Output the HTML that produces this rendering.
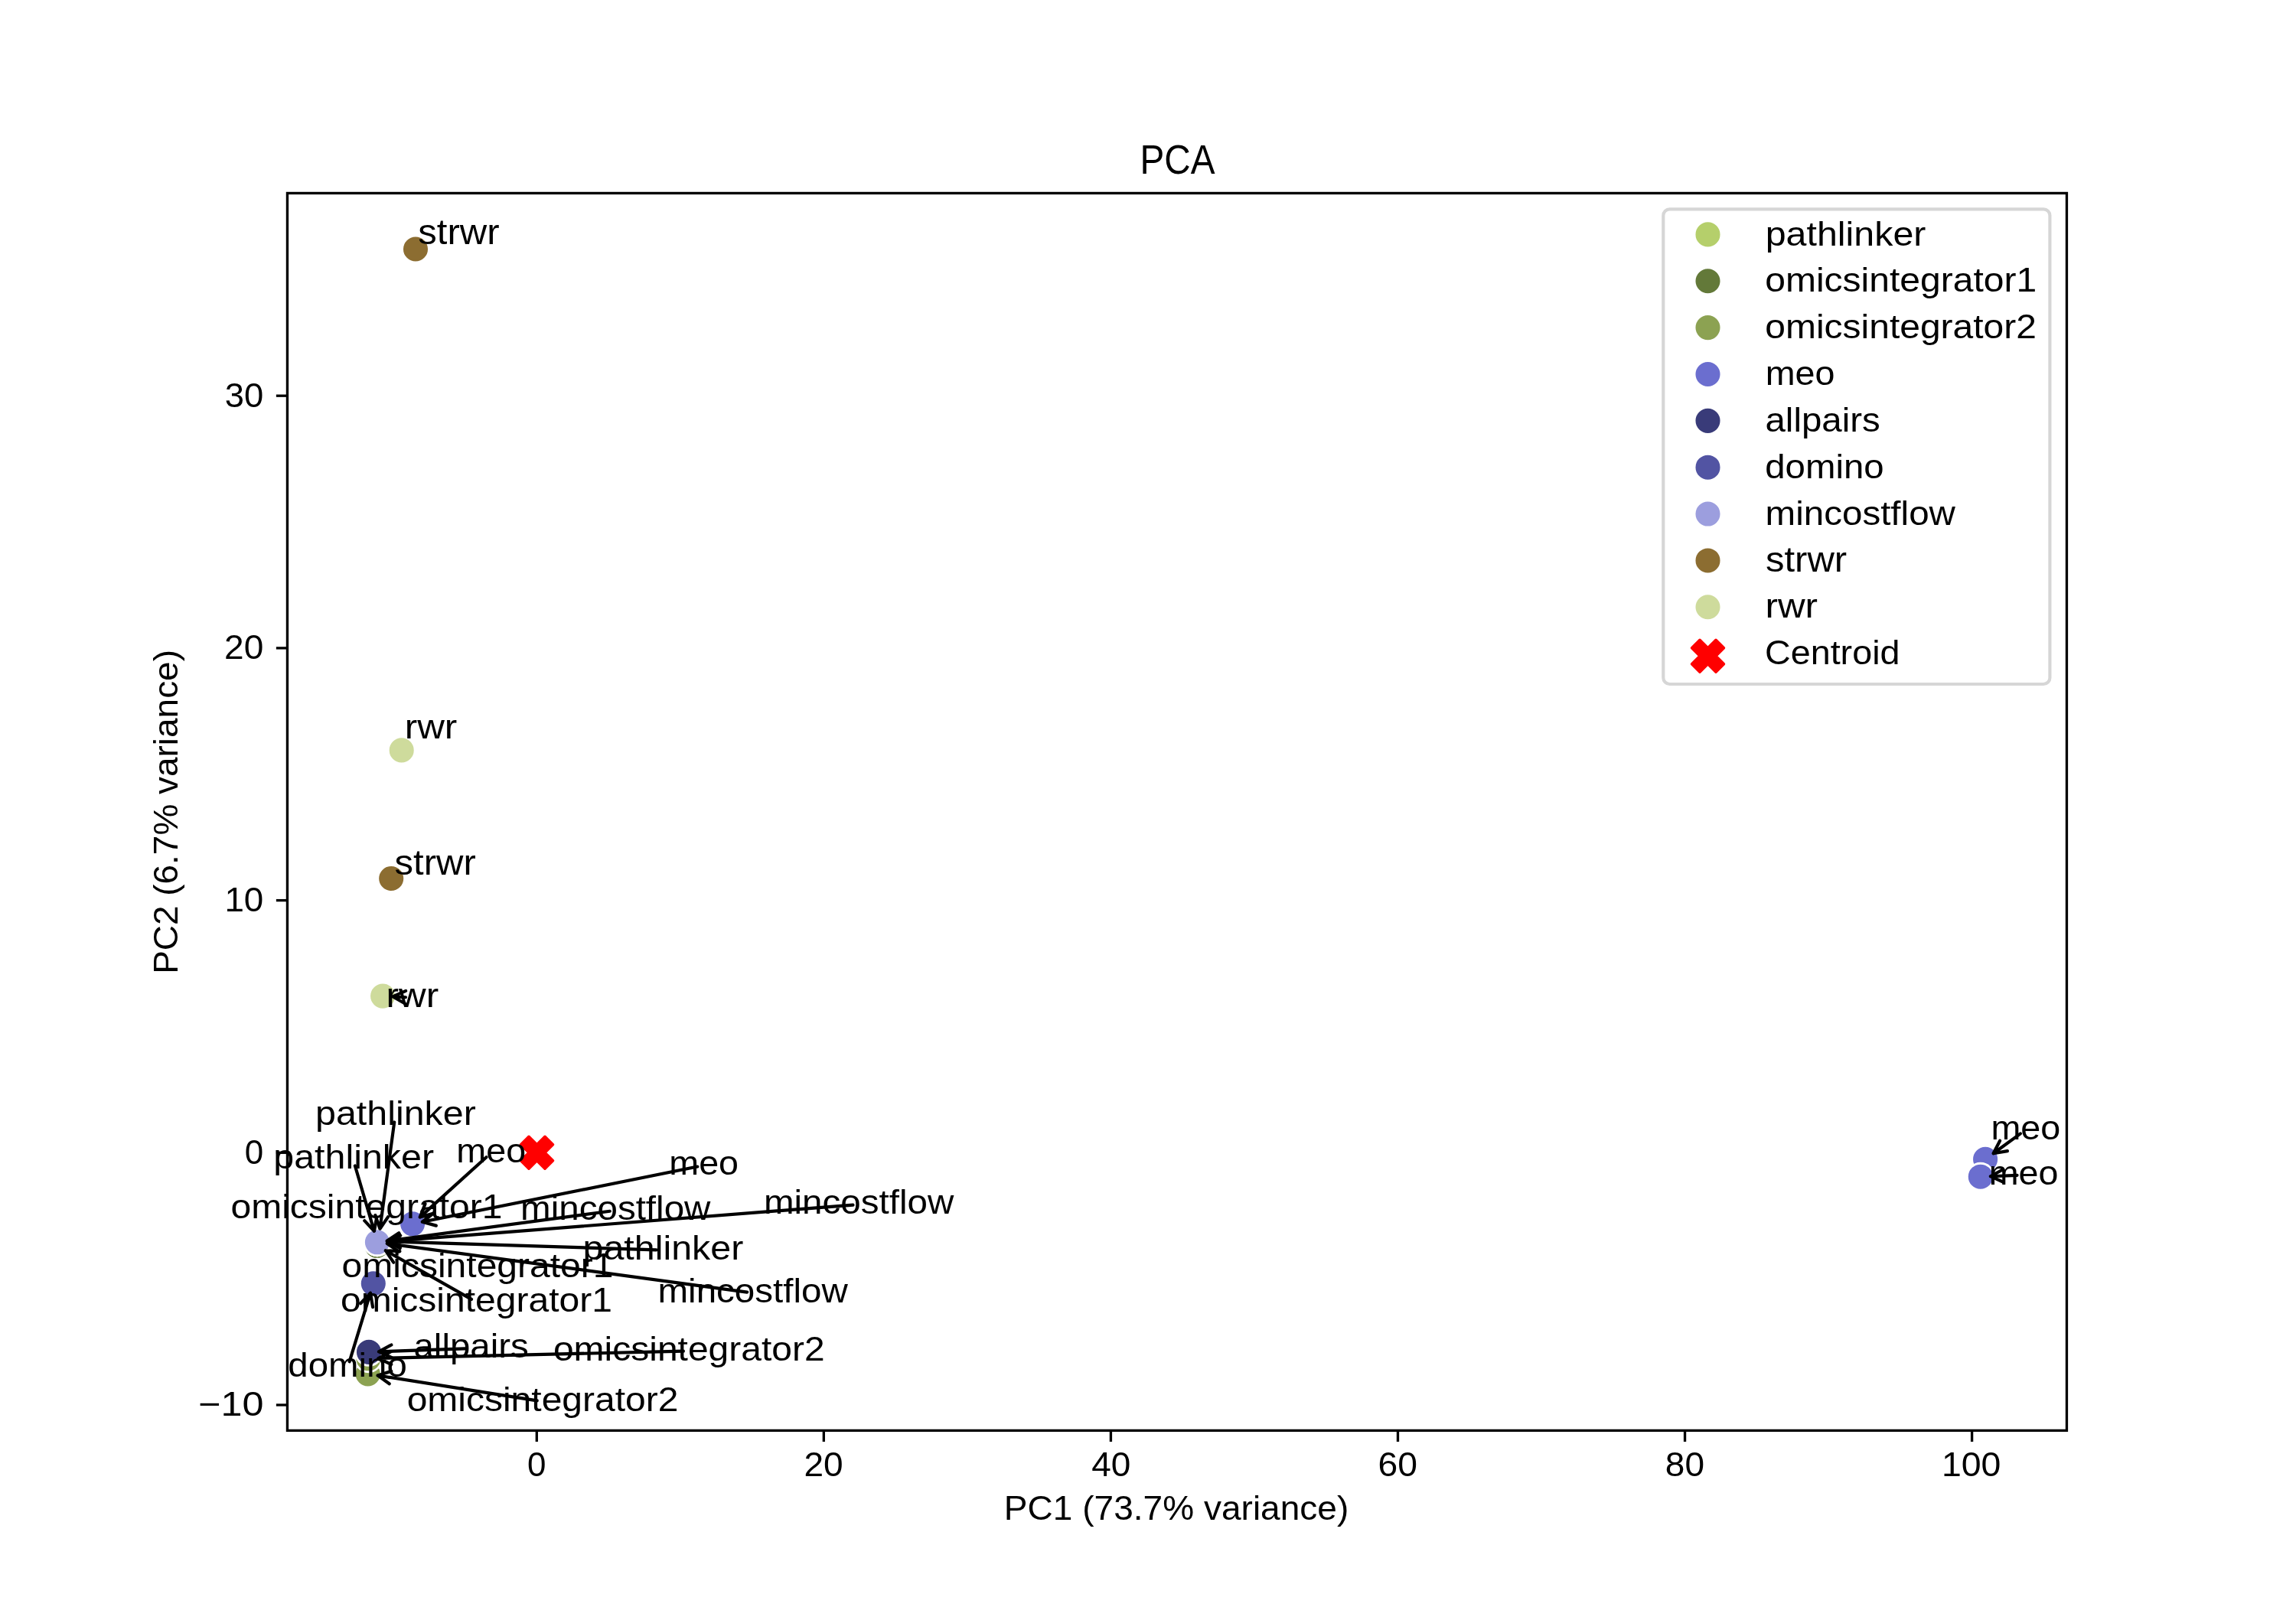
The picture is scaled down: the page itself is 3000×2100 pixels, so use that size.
<!DOCTYPE html><html><head><meta charset="utf-8"><style>html,body{margin:0;padding:0;background:#fff;}svg{display:block;will-change:transform;}text{font-family:"Liberation Sans",sans-serif;}</style></head><body>
<svg width="3000" height="2100" viewBox="0 0 3000 2100">
<rect x="0" y="0" width="3000" height="2100" fill="#fff"/>
<defs><clipPath id="ax"><rect x="375.45" y="252.45" width="2325.0" height="1616.95"/></clipPath></defs>
<g clip-path="url(#ax)">
<circle cx="494.90" cy="1621.40" r="17.43" fill="#b5cf6b" stroke="#fff" stroke-width="2.79"/>
<circle cx="494.90" cy="1621.40" r="17.43" fill="#b5cf6b" stroke="#fff" stroke-width="2.79"/>
<circle cx="494.90" cy="1621.40" r="17.43" fill="#b5cf6b" stroke="#fff" stroke-width="2.79"/>
<circle cx="492.50" cy="1627.80" r="17.43" fill="#637939" stroke="#fff" stroke-width="2.79"/>
<circle cx="492.50" cy="1627.80" r="17.43" fill="#637939" stroke="#fff" stroke-width="2.79"/>
<circle cx="492.50" cy="1627.80" r="17.43" fill="#637939" stroke="#fff" stroke-width="2.79"/>
<circle cx="480.70" cy="1795.40" r="17.43" fill="#8ca252" stroke="#fff" stroke-width="2.79"/>
<circle cx="481.40" cy="1775.30" r="17.43" fill="#8ca252" stroke="#fff" stroke-width="2.79"/>
<circle cx="539.10" cy="1599.30" r="17.43" fill="#6b6ecf" stroke="#fff" stroke-width="2.79"/>
<circle cx="539.10" cy="1599.30" r="17.43" fill="#6b6ecf" stroke="#fff" stroke-width="2.79"/>
<circle cx="2594.10" cy="1514.90" r="17.43" fill="#6b6ecf" stroke="#fff" stroke-width="2.79"/>
<circle cx="2587.80" cy="1537.70" r="17.43" fill="#6b6ecf" stroke="#fff" stroke-width="2.79"/>
<circle cx="482.00" cy="1766.90" r="17.43" fill="#393b79" stroke="#fff" stroke-width="2.79"/>
<circle cx="487.80" cy="1677.30" r="17.43" fill="#5254a3" stroke="#fff" stroke-width="2.79"/>
<circle cx="492.90" cy="1623.30" r="17.43" fill="#9c9ede" stroke="#fff" stroke-width="2.79"/>
<circle cx="492.90" cy="1623.30" r="17.43" fill="#9c9ede" stroke="#fff" stroke-width="2.79"/>
<circle cx="492.90" cy="1623.30" r="17.43" fill="#9c9ede" stroke="#fff" stroke-width="2.79"/>
<circle cx="543.00" cy="325.50" r="17.43" fill="#8c6d31" stroke="#fff" stroke-width="2.79"/>
<circle cx="511.20" cy="1148.00" r="17.43" fill="#8c6d31" stroke="#fff" stroke-width="2.79"/>
<circle cx="524.70" cy="980.40" r="17.43" fill="#cedb9c" stroke="#fff" stroke-width="2.79"/>
<circle cx="500.10" cy="1301.60" r="17.43" fill="#cedb9c" stroke="#fff" stroke-width="2.79"/>
<path d="M691.00,1485.30 L701.50,1495.80 L712.00,1485.30 L722.50,1495.80 L712.00,1506.30 L722.50,1516.80 L712.00,1527.30 L701.50,1516.80 L691.00,1527.30 L680.50,1516.80 L691.00,1506.30 L680.50,1495.80Z" fill="#ff0000" stroke="#ff0000" stroke-width="3.4" stroke-linejoin="round"/>
</g>
<text transform="translate(546.29,319.00) scale(1.0811,1)" font-size="45.38" fill="#000">strwr</text>
<text transform="translate(528.68,964.80) scale(1.1350,1)" font-size="43.53" fill="#000">rwr</text>
<text transform="translate(515.59,1142.90) scale(1.0811,1)" font-size="45.38" fill="#000">strwr</text>
<text transform="translate(504.58,1315.70) scale(1.1350,1)" font-size="43.53" fill="#000">rwr</text>
<text transform="translate(412.06,1470.20) scale(1.1063,1)" font-size="43.74" fill="#000">pathlinker</text>
<text transform="translate(357.26,1527.40) scale(1.1063,1)" font-size="43.74" fill="#000">pathlinker</text>
<text transform="translate(596.36,1518.60) scale(1.0724,1)" font-size="43.53" fill="#000">meo</text>
<text transform="translate(874.26,1534.90) scale(1.0724,1)" font-size="43.53" fill="#000">meo</text>
<text transform="translate(680.11,1593.70) scale(1.0869,1)" font-size="43.74" fill="#000">mincostflow</text>
<text transform="translate(997.91,1586.00) scale(1.0869,1)" font-size="43.74" fill="#000">mincostflow</text>
<text transform="translate(301.43,1592.10) scale(1.0982,1)" font-size="43.74" fill="#000">omicsintegrator1</text>
<text transform="translate(761.56,1645.60) scale(1.1063,1)" font-size="43.74" fill="#000">pathlinker</text>
<text transform="translate(446.53,1669.00) scale(1.0982,1)" font-size="43.74" fill="#000">omicsintegrator1</text>
<text transform="translate(444.93,1714.00) scale(1.0982,1)" font-size="43.74" fill="#000">omicsintegrator1</text>
<text transform="translate(859.51,1701.70) scale(1.0869,1)" font-size="43.74" fill="#000">mincostflow</text>
<text transform="translate(540.45,1774.00) scale(1.0851,1)" font-size="43.74" fill="#000">allpairs</text>
<text transform="translate(722.93,1777.50) scale(1.0976,1)" font-size="43.74" fill="#000">omicsintegrator2</text>
<text transform="translate(376.35,1799.30) scale(1.0836,1)" font-size="43.74" fill="#000">domino</text>
<text transform="translate(531.63,1843.70) scale(1.0976,1)" font-size="43.74" fill="#000">omicsintegrator2</text>
<text transform="translate(2601.46,1488.50) scale(1.0724,1)" font-size="43.53" fill="#000">meo</text>
<text transform="translate(2598.66,1547.60) scale(1.0724,1)" font-size="43.53" fill="#000">meo</text>
<path d="M529.98,1303.24 L513.07,1302.31 M530.17,1294.91 L513.07,1302.31 L529.26,1311.55" fill="none" stroke="#000" stroke-width="4.1667" stroke-linejoin="round" stroke-linecap="round"/>
<path d="M515.22,1466.46 L496.44,1605.73 M490.41,1588.09 L496.44,1605.73 L506.92,1590.32" fill="none" stroke="#000" stroke-width="4.1667" stroke-linejoin="round" stroke-linecap="round"/>
<path d="M463.88,1523.39 L488.94,1608.83 M476.26,1595.18 L488.94,1608.83 L492.24,1590.49" fill="none" stroke="#000" stroke-width="4.1667" stroke-linejoin="round" stroke-linecap="round"/>
<path d="M635.42,1512.19 L548.73,1590.59 M555.51,1573.23 L548.73,1590.59 L566.69,1585.58" fill="none" stroke="#000" stroke-width="4.1667" stroke-linejoin="round" stroke-linecap="round"/>
<path d="M911.33,1524.54 L551.84,1596.74 M566.54,1585.29 L551.84,1596.74 L569.82,1601.63" fill="none" stroke="#000" stroke-width="4.1667" stroke-linejoin="round" stroke-linecap="round"/>
<path d="M796.76,1582.80 L505.78,1621.58 M521.20,1611.12 L505.78,1621.58 L523.40,1627.64" fill="none" stroke="#000" stroke-width="4.1667" stroke-linejoin="round" stroke-linecap="round"/>
<path d="M1114.51,1574.65 L505.85,1622.29 M521.82,1612.68 L505.85,1622.29 L523.12,1629.29" fill="none" stroke="#000" stroke-width="4.1667" stroke-linejoin="round" stroke-linecap="round"/>
<path d="M857.51,1633.34 L506.28,1622.40 M523.21,1614.60 L506.28,1622.40 L522.69,1631.25" fill="none" stroke="#000" stroke-width="4.1667" stroke-linejoin="round" stroke-linecap="round"/>
<path d="M616.00,1697.89 L503.80,1634.21 M522.41,1635.19 L503.80,1634.21 L514.18,1649.68" fill="none" stroke="#000" stroke-width="4.1667" stroke-linejoin="round" stroke-linecap="round"/>
<path d="M976.16,1688.58 L505.77,1625.04 M523.41,1619.02 L505.77,1625.04 L521.18,1635.53" fill="none" stroke="#000" stroke-width="4.1667" stroke-linejoin="round" stroke-linecap="round"/>
<path d="M607.28,1762.31 L494.98,1766.42 M511.34,1757.49 L494.98,1766.42 L511.95,1774.14" fill="none" stroke="#000" stroke-width="4.1667" stroke-linejoin="round" stroke-linecap="round"/>
<path d="M892.92,1765.69 L494.39,1775.00 M510.86,1766.28 L494.39,1775.00 L511.25,1782.94" fill="none" stroke="#000" stroke-width="4.1667" stroke-linejoin="round" stroke-linecap="round"/>
<path d="M456.60,1779.33 L484.00,1689.72 M487.09,1708.10 L484.00,1689.72 L471.16,1703.23" fill="none" stroke="#000" stroke-width="4.1667" stroke-linejoin="round" stroke-linecap="round"/>
<path d="M701.72,1830.40 L493.53,1797.43 M511.30,1791.81 L493.53,1797.43 L508.69,1808.27" fill="none" stroke="#000" stroke-width="4.1667" stroke-linejoin="round" stroke-linecap="round"/>
<path d="M2639.97,1481.41 L2604.59,1507.24 M2613.14,1490.68 L2604.59,1507.24 L2622.97,1504.14" fill="none" stroke="#000" stroke-width="4.1667" stroke-linejoin="round" stroke-linecap="round"/>
<path d="M2635.57,1535.91 L2600.78,1537.21 M2617.13,1528.27 L2600.78,1537.21 L2617.75,1544.91" fill="none" stroke="#000" stroke-width="4.1667" stroke-linejoin="round" stroke-linecap="round"/>
<rect x="375.45" y="252.45" width="2325.0" height="1616.95" fill="none" stroke="#000" stroke-width="3.333" stroke-linejoin="miter"/>
<line x1="701.30" y1="1869.4" x2="701.30" y2="1883.98" stroke="#000" stroke-width="3.333"/>
<text transform="translate(689.06,1929.40) scale(0.9903,1)" font-size="44.39" fill="#000">0</text>
<line x1="1076.36" y1="1869.4" x2="1076.36" y2="1883.98" stroke="#000" stroke-width="3.333"/>
<text transform="translate(1050.44,1929.40) scale(1.0376,1)" font-size="44.39" fill="#000">20</text>
<line x1="1451.42" y1="1869.4" x2="1451.42" y2="1883.98" stroke="#000" stroke-width="3.333"/>
<text transform="translate(1426.17,1929.40) scale(1.0352,1)" font-size="44.39" fill="#000">40</text>
<line x1="1826.48" y1="1869.4" x2="1826.48" y2="1883.98" stroke="#000" stroke-width="3.333"/>
<text transform="translate(1800.45,1929.40) scale(1.0420,1)" font-size="44.39" fill="#000">60</text>
<line x1="2201.54" y1="1869.4" x2="2201.54" y2="1883.98" stroke="#000" stroke-width="3.333"/>
<text transform="translate(2175.80,1929.40) scale(1.0369,1)" font-size="44.39" fill="#000">80</text>
<line x1="2576.60" y1="1869.4" x2="2576.60" y2="1883.98" stroke="#000" stroke-width="3.333"/>
<text transform="translate(2536.88,1929.40) scale(1.0474,1)" font-size="44.39" fill="#000">100</text>
<line x1="360.87" y1="1836.00" x2="375.45" y2="1836.00" stroke="#000" stroke-width="3.333"/>
<text transform="translate(259.16,1850.40) scale(1.1335,1)" font-size="44.39" fill="#000">−10</text>
<line x1="360.87" y1="1506.30" x2="375.45" y2="1506.30" stroke="#000" stroke-width="3.333"/>
<text transform="translate(319.81,1520.70) scale(0.9903,1)" font-size="44.39" fill="#000">0</text>
<line x1="360.87" y1="1176.60" x2="375.45" y2="1176.60" stroke="#000" stroke-width="3.333"/>
<text transform="translate(293.38,1191.00) scale(1.0312,1)" font-size="44.39" fill="#000">10</text>
<line x1="360.87" y1="846.90" x2="375.45" y2="846.90" stroke="#000" stroke-width="3.333"/>
<text transform="translate(293.08,861.30) scale(1.0376,1)" font-size="44.39" fill="#000">20</text>
<line x1="360.87" y1="517.20" x2="375.45" y2="517.20" stroke="#000" stroke-width="3.333"/>
<text transform="translate(293.76,531.60) scale(1.0235,1)" font-size="44.39" fill="#000">30</text>
<text transform="translate(1311.84,1986.20) scale(1.0530,1)" font-size="43.74" fill="#000">PC1 (73.7% variance)</text>
<text transform="translate(1489.49,226.70) scale(0.8968,1)" font-size="53.15" fill="#000">PCA</text>
<text transform="translate(231.60,1272.85) rotate(-90) scale(1.0505,1)" font-size="43.74">PC2 (6.7% variance)</text>
<rect x="2173.3" y="273.3" width="505.1" height="620.7" rx="8.3" ry="8.3" fill="#fff" fill-opacity="0.8" stroke="#d6d6d6" stroke-width="4.1667"/>
<circle cx="2231.50" cy="306.40" r="17.43" fill="#b5cf6b" stroke="#fff" stroke-width="2.79"/>
<text transform="translate(2306.66,320.60) scale(1.1063,1)" font-size="43.74" fill="#000">pathlinker</text>
<circle cx="2231.50" cy="367.26" r="17.43" fill="#637939" stroke="#fff" stroke-width="2.79"/>
<text transform="translate(2306.23,381.46) scale(1.0982,1)" font-size="43.74" fill="#000">omicsintegrator1</text>
<circle cx="2231.50" cy="428.12" r="17.43" fill="#8ca252" stroke="#fff" stroke-width="2.79"/>
<text transform="translate(2306.23,442.32) scale(1.0976,1)" font-size="43.74" fill="#000">omicsintegrator2</text>
<circle cx="2231.50" cy="488.98" r="17.43" fill="#6b6ecf" stroke="#fff" stroke-width="2.79"/>
<text transform="translate(2306.66,503.18) scale(1.0724,1)" font-size="43.53" fill="#000">meo</text>
<circle cx="2231.50" cy="549.84" r="17.43" fill="#393b79" stroke="#fff" stroke-width="2.79"/>
<text transform="translate(2306.45,564.04) scale(1.0851,1)" font-size="43.74" fill="#000">allpairs</text>
<circle cx="2231.50" cy="610.70" r="17.43" fill="#5254a3" stroke="#fff" stroke-width="2.79"/>
<text transform="translate(2306.25,624.90) scale(1.0836,1)" font-size="43.74" fill="#000">domino</text>
<circle cx="2231.50" cy="671.56" r="17.43" fill="#9c9ede" stroke="#fff" stroke-width="2.79"/>
<text transform="translate(2306.61,685.76) scale(1.0869,1)" font-size="43.74" fill="#000">mincostflow</text>
<circle cx="2231.50" cy="732.42" r="17.43" fill="#8c6d31" stroke="#fff" stroke-width="2.79"/>
<text transform="translate(2306.89,746.62) scale(1.0811,1)" font-size="45.38" fill="#000">strwr</text>
<circle cx="2231.50" cy="793.28" r="17.43" fill="#cedb9c" stroke="#fff" stroke-width="2.79"/>
<text transform="translate(2306.48,807.48) scale(1.1350,1)" font-size="43.53" fill="#000">rwr</text>
<path d="M2221.00,836.30 L2231.50,846.80 L2242.00,836.30 L2252.50,846.80 L2242.00,857.30 L2252.50,867.80 L2242.00,878.30 L2231.50,867.80 L2221.00,878.30 L2210.50,867.80 L2221.00,857.30 L2210.50,846.80Z" fill="#ff0000" stroke="#ff0000" stroke-width="3.4" stroke-linejoin="round"/>
<text transform="translate(2305.95,868.40) scale(1.0680,1)" font-size="43.74" fill="#000">Centroid</text>
</svg></body></html>
